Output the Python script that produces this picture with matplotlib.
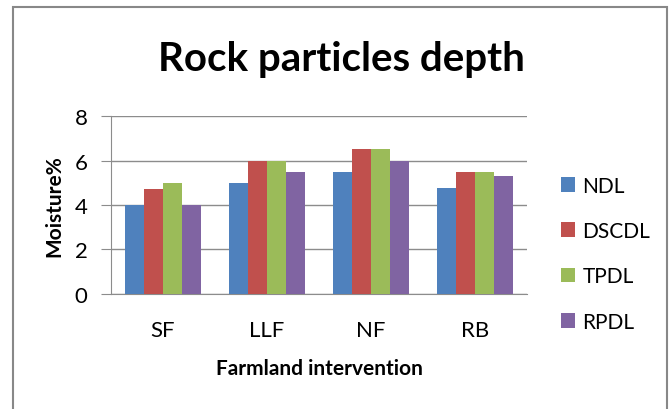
import numpy as np
import matplotlib.pyplot as plt
from matplotlib.patches import Rectangle

# data
categories = ["SF", "LLF", "NF", "RB"]
ndl = [4.0, 5.0, 5.5, 4.75]
dscdl = [4.7, 6.0, 6.5, 5.5]
tpdl = [5.0, 6.0, 6.5, 5.5]
rpdl = [4.0, 5.5, 6.0, 5.3]
series_names = ["NDL", "DSCDL", "TPDL", "RPDL"]
colors = ["#4F81BD", "#C0504D", "#9BBB59", "#8064A2"]

plt.rcParams['font.family'] = ['Lato', 'DejaVu Sans']

fig = plt.figure(figsize=(6.7, 4.1), dpi=100)
ax = fig.add_axes([0.1657, 0.2805, 0.6209, 0.4341])

x = np.arange(len(categories))
w = 0.1825
for i, (vals, name, c) in enumerate(zip([ndl, dscdl, tpdl, rpdl], series_names, colors)):
    ax.bar(x + (i - 1.5) * w, vals, width=w, color=c, label=name, zorder=3)

ax.set_xlim(-0.5, 3.5)
ax.set_ylim(0, 8)
ax.set_yticks([0, 2, 4, 6, 8])
ax.set_xticks(x)
ax.set_xticklabels(categories)
ax.yaxis.grid(True, color="#8c8c8c", linewidth=1)
ax.set_axisbelow(True)
for s in ["top", "right"]:
    ax.spines[s].set_visible(False)
ax.spines["left"].set_color("#8c8c8c")
ax.spines["bottom"].set_color("#8c8c8c")
ax.tick_params(axis="y", length=7, color="#8c8c8c", labelsize=16, pad=10)
ax.tick_params(axis="x", length=0, labelsize=16, pad=19)

ax.set_xlabel("Farmland intervention", fontsize=15, fontweight="bold", labelpad=13)
ax.set_ylabel("Moisture%", fontsize=15, fontweight="bold")
ax.yaxis.set_label_coords(-0.112, 0.5)

fig.text(0.51, 0.855, "Rock particles depth", fontsize=29, fontweight="bold",
         ha="center", va="center")

leg = fig.legend(loc="upper left", bbox_to_anchor=(0.81, 0.615), frameon=False,
                 fontsize=15, handlelength=0.65, handleheight=0.7,
                 handletextpad=0.35, labelspacing=1.22)

fig.patches.append(Rectangle((13 / 670, -0.05), (667 - 13) / 670, 1.05 - 8 / 410,
                             transform=fig.transFigure, fill=False,
                             edgecolor="#888888", linewidth=1.5))

fig.savefig("out.png", dpi=100)
